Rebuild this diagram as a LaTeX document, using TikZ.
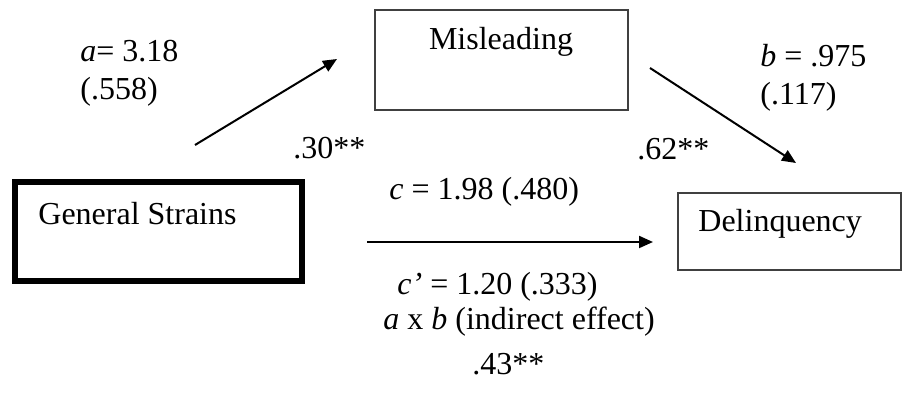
\documentclass[tikz,border=0pt]{standalone}
\usepackage{fontspec}
\setmainfont{Liberation Serif}
\usetikzlibrary{arrows.meta}
\begin{document}
\begin{tikzpicture}[x=0.5pt,y=-0.5pt,
  thinbox/.style={draw=black!75,line width=0.8pt,rectangle,inner sep=0pt},
  thickbox/.style={draw=black,line width=2.6pt,rectangle,inner sep=0pt},
  lbl/.style={anchor=base west,inner sep=0pt,font=\fontsize{16}{19}\selectfont},
  arr/.style={line width=1pt,-{Triangle[length=7pt,width=6pt]}}]
\useasboundingbox (0,0) rectangle (903,394);
% boxes
\node[thickbox,minimum width=143.5pt,minimum height=49.5pt] (gs) at (158.5,231.5) {};
\node[thinbox,minimum width=126.5pt,minimum height=50pt] (mis) at (501.5,60) {};
\node[thinbox,minimum width=111.5pt,minimum height=38.5pt] (del) at (789.5,231.5) {};
% box texts
\node[lbl] (gst) at (38,225) {General Strains};
\node[lbl,anchor=base] (mist) at (501,50) {Misleading};
\node[lbl] (delt) at (698,232) {Delinquency};
% arrow end points
\coordinate (a1) at (195,145);
\coordinate (a2) at (337,59);
\coordinate (b1) at (650,68);
\coordinate (b2) at (796,163);
\coordinate (c1) at (367,242);
\coordinate (c2) at (653,242);
\draw[arr] (a1) -- (a2);
\draw[arr] (b1) -- (b2);
\draw[arr] (c1) -- (c2);
% labels
\node[lbl] (la1) at (80,62) {\textit{a}= 3.18};
\node[lbl] (la2) at (80,100) {(.558)};
\node[lbl] (lb1) at (760,67) {\textit{b} = .975};
\node[lbl] (lb2) at (760,105) {(.117)};
\node[lbl] (l30) at (293,159) {.30**};
\node[lbl] (l62) at (637,160) {.62**};
\node[lbl] (lc) at (389,200) {\textit{c} = 1.98 (.480)};
\node[lbl] (lcp) at (397,295) {\textit{c’} = 1.20 (.333)};
\node[lbl] (lab) at (383,330) {\textit{a} x \textit{b} (indirect effect)};
\node[lbl] (l43) at (472,375) {.43**};
\end{tikzpicture}
\end{document}
